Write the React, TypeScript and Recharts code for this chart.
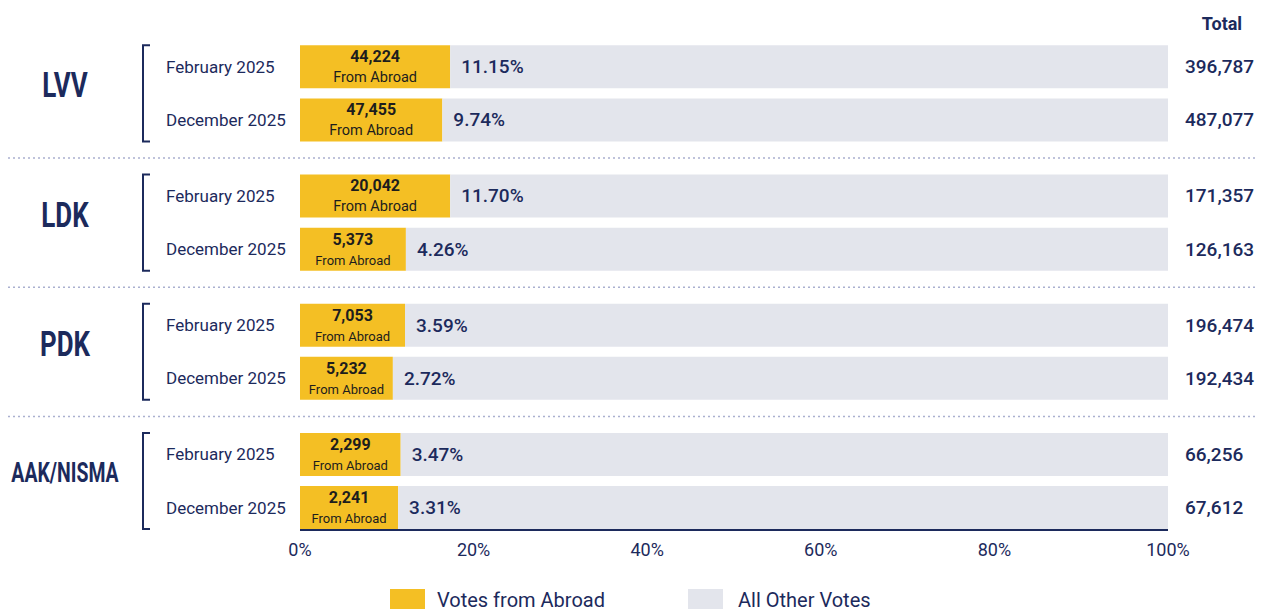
import { BarChart, Bar, XAxis, YAxis, LabelList, ReferenceLine } from 'recharts';

const parties = ['LVV', 'LDK', 'PDK', 'AAK/NISMA'];
const periods = ['February 2025', 'December 2025'];
const abroadVotes = [44224, 47455, 20042, 5373, 7053, 5232, 2299, 2241];
const abroadPct = ['11.15%', '9.74%', '11.70%', '4.26%', '3.59%', '2.72%', '3.47%', '3.31%'];
const totals = [396787, 487077, 171357, 126163, 196474, 192434, 66256, 67612];
// yellow segment length as drawn in the source (share of the 0-100% axis)
const barShare = [17.3, 16.4, 17.3, 12.2, 12.1, 10.7, 11.6, 11.3];
const xTicks = [0, 20, 40, 60, 80, 100];

const NAVY = '#1c2a5c';
const YELLOW = '#f4bf24';
const GRAY = '#e3e5ec';
const FONT = 'Roboto, "Noto Sans", sans-serif';

const GROUP_STEP = 2.43;
const Y_DOMAIN: [number, number] = [-0.58, 8.71];
const W = 1258;
const H = 560;
const MARGIN = { top: 28, right: 98, bottom: 8, left: 292 };
const X_AXIS_H = 30;
const UNIT = (H - MARGIN.top - MARGIN.bottom - X_AXIS_H) / (Y_DOMAIN[1] - Y_DOMAIN[0]);

const data = barShare.map((s, i) => ({
  pos: Math.floor(i / 2) * GROUP_STEP + (i % 2),
  abroad: s,
  other: 100 - s,
}));

const separators = [0, 1, 2].map((g) => g * GROUP_STEP + (1 + GROUP_STEP) / 2);

const fmt = (n: number) => n.toLocaleString('en-US');

const AbroadLabel = (p: any) => {
  const { x, y, width, height, index } = p;
  const cx = x + width / 2;
  const cy = y + height / 2;
  const small = width < 110;
  const first = index % 2 === 0;
  const name = parties[Math.floor(index / 2)];
  const nx = x - 235;
  const ny = cy + UNIT / 2 - 8;
  return (
    <g fontFamily={FONT}>
      <text x={cx} y={cy - 10} textAnchor="middle" dominantBaseline="central" fontSize={16} fontWeight={700} fill="#1d1d1d">
        {fmt(abroadVotes[index])}
      </text>
      <text x={cx} y={cy + 11} textAnchor="middle" dominantBaseline="central" fontSize={small ? 13 : 14.5} fill="#1d1d1d">
        From Abroad
      </text>
      <text x={x - 134} y={cy} dominantBaseline="central" fontSize={17} fill={NAVY}>
        {periods[index % 2]}
      </text>
      {first && (
        <g>
          <path
            d={`M ${x - 150} ${y} H ${x - 157} V ${y + UNIT + height} H ${x - 150}`}
            fill="none"
            stroke={NAVY}
            strokeWidth={2}
          />
          <text
            transform={`translate(${nx} ${ny}) scale(0.72 1)`}
            textAnchor="middle"
            dominantBaseline="central"
            fontSize={name.length > 4 ? 27 : 36}
            fontWeight={700}
            fill={NAVY}
          >
            {name}
          </text>
        </g>
      )}
    </g>
  );
};

const OtherLabel = (p: any) => {
  const { x, y, width, height, index } = p;
  const cy = y + height / 2;
  return (
    <g fontFamily={FONT} fill={NAVY} fontSize={19} fontWeight={500}>
      <text x={x + 11} y={cy} dominantBaseline="central">{abroadPct[index]}</text>
      <text x={x + width + 17} y={cy} dominantBaseline="central">{fmt(totals[index])}</text>
      {index === 0 && (
        <text x={x + width + 54} y={y - 22} textAnchor="middle" dominantBaseline="central" fontWeight={700} fontSize={18}>
          Total
        </text>
      )}
    </g>
  );
};

const Separator = (p: any) => {
  const yy = p.y1 ?? p.y;
  return <line x1={0} x2={W} y1={yy} y2={yy} stroke="#aab0d0" strokeWidth={1.5} strokeDasharray="2 3" />;
};

export default function App() {
  return (
    <div style={{ width: W, background: '#fff', fontFamily: FONT }}>
      <BarChart layout="vertical" width={W} height={H} data={data} margin={MARGIN}>
        <XAxis
          type="number"
          domain={[0, 100]}
          ticks={xTicks}
          tickFormatter={(v) => `${v}%`}
          axisLine={{ stroke: NAVY, strokeWidth: 2 }}
          tickLine={false}
          tickMargin={7}
          height={X_AXIS_H}
          tick={{ fill: NAVY, fontSize: 18, fontFamily: FONT }}
        />
        <YAxis type="number" dataKey="pos" domain={Y_DOMAIN} hide />
        {separators.map((s) => (
          <ReferenceLine key={s} y={s} shape={Separator} />
        ))}
        <Bar dataKey="abroad" stackId="a" fill={YELLOW} barSize={43} isAnimationActive={false}>
          <LabelList dataKey="abroad" content={AbroadLabel} />
        </Bar>
        <Bar dataKey="other" stackId="a" fill={GRAY} barSize={43} isAnimationActive={false}>
          <LabelList dataKey="other" content={OtherLabel} />
        </Bar>
      </BarChart>
      <div style={{ display: 'flex', alignItems: 'center', marginTop: 20, paddingLeft: 382, color: NAVY, fontSize: 20 }}>
        <span style={{ width: 35, height: 22, background: YELLOW, display: 'inline-block' }} />
        <span style={{ marginLeft: 12 }}>Votes from Abroad</span>
        <span style={{ width: 35, height: 22, background: GRAY, display: 'inline-block', marginLeft: 83 }} />
        <span style={{ marginLeft: 15 }}>All Other Votes</span>
      </div>
    </div>
  );
}
